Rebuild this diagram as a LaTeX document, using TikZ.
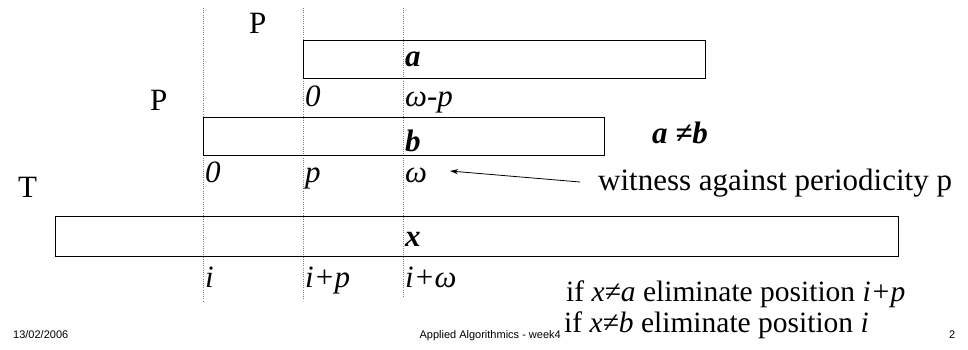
\documentclass[tikz,border=0pt]{standalone}
\usepackage{fontspec}
\setmainfont{Liberation Serif}
\newfontfamily\footfont{Liberation Sans}
\usetikzlibrary{arrows.meta}
\begin{document}
\begin{tikzpicture}[x=1pt,y=-1pt,
  lbl/.style={anchor=base west,inner sep=0pt,font=\fontsize{31}{34}\selectfont\itshape},
  bl/.style={anchor=base west,inner sep=0pt,font=\fontsize{31}{34}\selectfont\bfseries\itshape},
  big/.style={anchor=base west,inner sep=0pt,font=\fontsize{31}{34}\selectfont},
  rule/.style={anchor=base west,inner sep=0pt,font=\fontsize{29.5}{32}\selectfont},
  strip/.style={draw=black,line width=0.9pt,inner sep=0pt,minimum height=38pt,anchor=north west},
  guide/.style={draw=gray,line width=0.6pt,dash pattern=on 1pt off 1.2pt},
  foot/.style={anchor=base west,inner sep=0pt,font=\footfont\fontsize{11}{13}\selectfont}]
\useasboundingbox (0,0) rectangle (968,349);
% guide lines
\coordinate (g1t) at (203,8); \coordinate (g1b) at (203,301);
\coordinate (g2t) at (303,8); \coordinate (g2b) at (303,300);
\coordinate (g3t) at (403,8); \coordinate (g3b) at (403,297);
\draw[guide] (g1t) -- (g1b);
\draw[guide] (g2t) -- (g2b);
\draw[guide] (g3t) -- (g3b);
% strips
\node[strip,minimum width=402pt] (boxa) at (303,40) {};
\node[strip,minimum width=401pt] (boxb) at (203,117) {};
\node[strip,minimum width=843pt,minimum height=40pt] (boxx) at (55,216) {};
% big letters
\node[big] (P1) at (249,33) {P};
\node[big] (P2) at (150,110) {P};
\node[big] (T) at (18,197) {T};
% labels in strips
\node[bl] (la) at (405,66) {a};
\node[bl] (lb) at (405,151) {b};
\node[bl] (lx) at (405,246) {x};
% position labels
\node[lbl] (a0) at (305,106) {0};
\node[lbl] (awp) at (405,106) {ω-p};
\node[lbl] (b0) at (205,182) {0};
\node[lbl] (bp) at (305,182) {p};
\node[lbl] (bw) at (405,182) {ω};
\node[lbl] (xi) at (205,287) {i};
\node[lbl] (xip) at (305,287) {i+p};
\node[lbl] (xiw) at (405,287) {i+ω};
% neq
\node[bl] (neq) at (652,143) {a ≠b};
% witness
\node[big] (wit) at (598,190) {witness against periodicity p};
\coordinate (wtail) at (580,182);
\coordinate (whead) at (450,171);
\draw[line width=0.8pt,-{Stealth[length=8pt,width=5pt]}] (wtail) -- (whead);
% rules
\node[rule] (r1) at (566,301) {if \textit{x≠a} eliminate position \textit{i+p}};
\node[rule] (r2) at (564,332) {if \textit{x≠b} eliminate position \textit{i}};
% footer
\node[foot] (date) at (13,338) {13/02/2006};
\node[foot,anchor=base east] (title) at (561,338) {Applied Algorithmics - week4};
\node[foot] (pg) at (949,338) {2};
\end{tikzpicture}
\end{document}
